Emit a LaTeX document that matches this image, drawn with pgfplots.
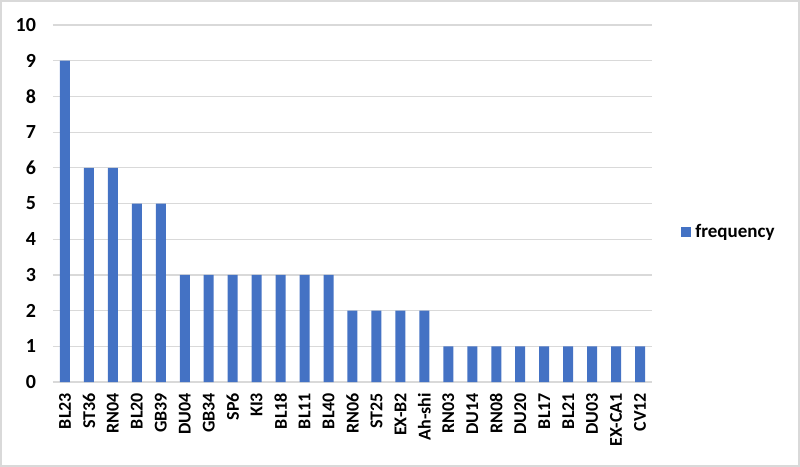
\documentclass[border=0pt]{standalone}
\usepackage{pgfplots}
\pgfplotsset{compat=1.18}
\usepackage{fontspec}
\setmainfont{Carlito}
\definecolor{barblue}{HTML}{4472C4}
\definecolor{gridgray}{HTML}{D9D9D9}
\begin{document}
\begin{tikzpicture}[x=0.5pt,y=0.5pt]
\begin{axis}[
    at={(0,0)}, anchor=south west,
    scale only axis,
    width=299.5pt, height=178.5pt,
    ybar, bar width=5pt,
    xmin=-0.5, xmax=24.5,
    ymin=0, ymax=10,
    ytick={0,...,10},
    xtick=data,
    xticklabels={BL23,ST36,RN04,BL20,GB39,DU04,GB34,SP6,KI3,BL18,BL11,BL40,RN06,ST25,EX-B2,Ah-shi,RN03,DU14,RN08,DU20,BL17,BL21,DU03,EX-CA1,CV12},
    x tick label style={rotate=90, anchor=east, font=\fontsize{9}{10}\selectfont\bfseries},
    y tick label style={font=\fontsize{10}{11}\selectfont\bfseries},
    /pgf/number format/assume math mode=true,
    major tick length=0pt,
    ymajorgrids, grid style={gridgray, line width=0.6pt},
    axis y line*=left, y axis line style={draw=none},
    axis x line*=bottom, x axis line style={gridgray, line width=0.6pt},
    xticklabel shift=2pt, yticklabel shift=5pt,
    legend style={at={(1.038,0.42)}, anchor=west, draw=none, fill=none,
                  font=\fontsize{9.5}{11}\selectfont\bfseries},
    legend image code/.code={\fill[barblue] (0cm,-0.09cm) rectangle (0.18cm,0.09cm);},
]
\addplot[fill=barblue, draw=none] coordinates {
    (0,9) (1,6) (2,6) (3,5) (4,5) (5,3) (6,3) (7,3) (8,3) (9,3)
    (10,3) (11,3) (12,2) (13,2) (14,2) (15,2) (16,1) (17,1) (18,1)
    (19,1) (20,1) (21,1) (22,1) (23,1) (24,1)
};
\legend{frequency}
\end{axis}
\draw[gridgray, line width=0.8pt] (-52,-84) rectangle (746,381);
\useasboundingbox (-53,-85) rectangle (747,382);
\end{tikzpicture}
\end{document}
